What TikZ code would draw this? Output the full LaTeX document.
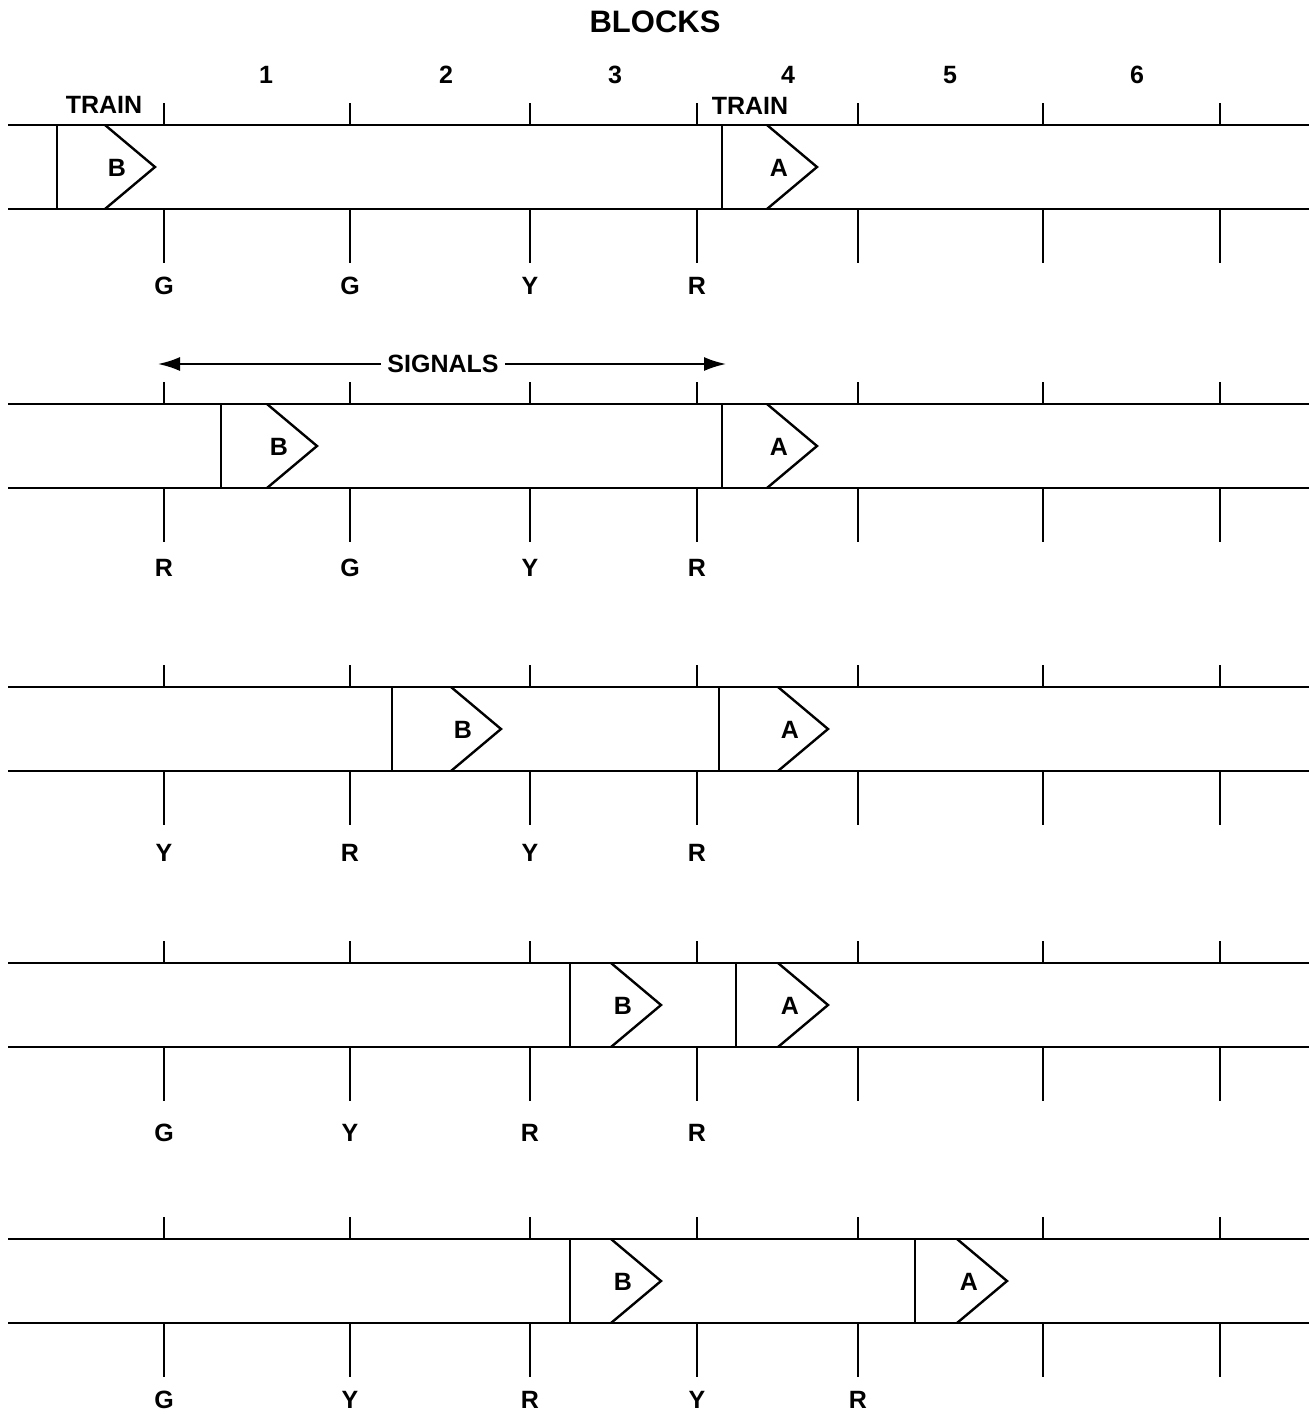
\documentclass[tikz,border=0pt]{standalone}
\usepackage{fontspec}
\setmainfont{Liberation Sans}
\usetikzlibrary{arrows.meta}
\tikzset{
    rail/.style={line width=1.4pt},
    post/.style={line width=1.3pt},
    trainline/.style={line width=1.2pt, line join=miter},
    lbl/.style={font=\fontsize{12.5}{15}\selectfont\bfseries, inner sep=0pt},
    carlabel/.style={lbl},
    blocknum/.style={font=\fontsize{12.5}{15}\selectfont\bfseries, inner sep=0pt},
    span/.style={-{Latex[length=11pt,width=7pt]}, line width=1.0pt},
}
% one track: rails plus the signal posts
\newcommand{\trackrow}[1]{
    \draw[rail] (8,#1) -- (1309,#1);
    \draw[rail] (8,#1+84) -- (1309,#1+84);
    \foreach \sx in {164,350,530,697,858,1043,1220}
        \draw[post] (\sx,#1-22) -- (\sx,#1) (\sx,#1+84) -- (\sx,#1+138);
}
% train: name, rear x, nose x, top rail y, letter
\newcommand{\trainat}[5]{
    \draw[trainline] (#2,#4) -- (#2,#4+84);
    \draw[trainline] (#3-50,#4) -- (#3,#4+42) -- (#3-50,#4+84);
    \node[carlabel] (#1) at (#3-38,#4+43) {#5};
}
% aspects under the posts
\newcommand{\aspects}[3]{
    \foreach \sx/\asp [count=\k] in {#3}
        \node[lbl] (#1-\k) at (\sx,#2) {\asp};
}

\begin{document}
\begin{tikzpicture}[x=0.5pt, y=-0.5pt]
    \useasboundingbox (0,0) rectangle (1309,1414);

    \node[font=\fontsize{15.5}{18}\selectfont\bfseries, inner sep=0pt] (blocks) at (655,22) {BLOCKS};
    \foreach \n/\bx in {1/266,2/446,3/615,4/788,5/950,6/1137}
        \node[blocknum] (blk\n) at (\bx,75) {\n};

    % row 1
    \trackrow{125}
    \node[lbl] (trainB) at (104,105) {TRAIN};
    \node[lbl] (trainA) at (750,106) {TRAIN};
    \trainat{b1}{57}{155}{125}{B}
    \trainat{a1}{722}{817}{125}{A}
    \aspects{s1}{286}{164/G,350/G,530/Y,697/R}

    % row 2
    \node[lbl] (signals) at (443,364) {SIGNALS};
    \coordinate (sigL) at (158,364);
    \coordinate (sigR) at (726,364);
    \draw[span] ([xshift=-3pt]signals.west) -- (sigL);
    \draw[span] ([xshift=3pt]signals.east) -- (sigR);
    \trackrow{404}
    \trainat{b2}{221}{317}{404}{B}
    \trainat{a2}{722}{817}{404}{A}
    \aspects{s2}{568}{164/R,350/G,530/Y,697/R}

    % row 3
    \trackrow{687}
    \trainat{b3}{392}{501}{687}{B}
    \trainat{a3}{719}{828}{687}{A}
    \aspects{s3}{853}{164/Y,350/R,530/Y,697/R}

    % row 4
    \trackrow{963}
    \trainat{b4}{570}{661}{963}{B}
    \trainat{a4}{736}{828}{963}{A}
    \aspects{s4}{1133}{164/G,350/Y,530/R,697/R}

    % row 5
    \trackrow{1239}
    \trainat{b5}{570}{661}{1239}{B}
    \trainat{a5}{915}{1007}{1239}{A}
    \aspects{s5}{1400}{164/G,350/Y,530/R,697/Y,858/R}

\end{tikzpicture}
\end{document}
